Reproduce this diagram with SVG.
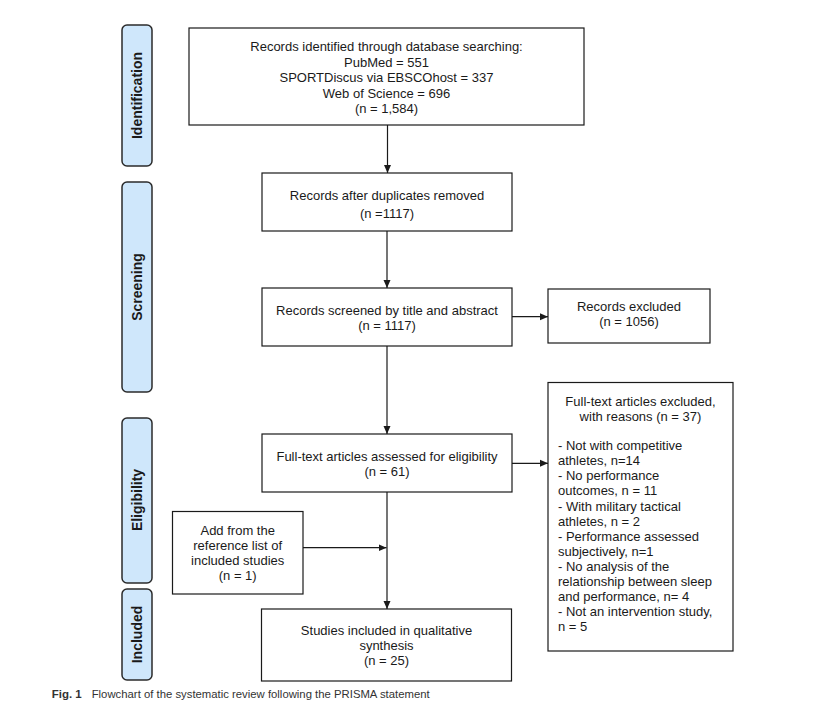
<svg xmlns="http://www.w3.org/2000/svg" width="828" height="705" viewBox="0 0 828 705">
<defs>
<style>
.box{fill:#fff;stroke:#1a1a1a;stroke-width:1.2}
.phase{fill:#cfe7fb;stroke:#2b2b2b;stroke-width:1.5}
.t{font-family:"Liberation Sans",Arial,sans-serif;font-size:13px;fill:#1a1a1a}
.c{text-anchor:middle}
.pl{font-family:"Liberation Sans",Arial,sans-serif;font-size:14px;font-weight:bold;fill:#1a1a1a;text-anchor:middle}
.ln{stroke:#1a1a1a;stroke-width:1.2;fill:none}
.cap{font-family:"Liberation Sans",Arial,sans-serif;font-size:11.5px;fill:#333}
</style>
<marker id="ah" markerWidth="8" markerHeight="8" refX="8" refY="4" orient="auto" markerUnits="userSpaceOnUse">
<path d="M0,0.5 L8,4 L0,7.5 Z" fill="#1a1a1a"/>
</marker>
</defs>
<rect width="828" height="705" fill="#fff"/>

<g id="phase-identification">
<rect class="phase" x="122" y="25" width="30" height="141" rx="5"/>
<text class="pl" transform="translate(142,95.5) rotate(-90)">Identification</text>
</g>
<g id="phase-screening">
<rect class="phase" x="122" y="182" width="30" height="210" rx="5"/>
<text class="pl" transform="translate(142,287) rotate(-90)">Screening</text>
</g>
<g id="phase-eligibility">
<rect class="phase" x="122" y="418" width="30" height="165" rx="5"/>
<text class="pl" transform="translate(142,500) rotate(-90)">Eligibility</text>
</g>
<g id="phase-included">
<rect class="phase" x="122" y="589" width="30" height="91" rx="5"/>
<text class="pl" transform="translate(142,634.5) rotate(-90)">Included</text>
</g>

<g id="n-identified">
<rect class="box" x="189" y="28" width="395" height="97"/>
<text class="t c" x="386.5" y="51">Records identified through database searching:</text>
<text class="t c" x="386.5" y="66.5">PubMed = 551</text>
<text class="t c" x="386.5" y="82">SPORTDiscus via EBSCOhost = 337</text>
<text class="t c" x="386.5" y="97.5">Web of Science = 696</text>
<text class="t c" x="386.5" y="113">(n = 1,584)</text>
</g>
<g id="n-duplicates">
<rect class="box" x="262" y="173" width="250" height="58"/>
<text class="t c" x="387" y="200">Records after duplicates removed</text>
<text class="t c" x="387" y="217.5">(n =1117)</text>
</g>
<g id="n-screened">
<rect class="box" x="262" y="288" width="250" height="58"/>
<text class="t c" x="387" y="314.5">Records screened by title and abstract</text>
<text class="t c" x="387" y="329.5">(n = 1117)</text>
</g>
<g id="n-excluded">
<rect class="box" x="548" y="289" width="162" height="54"/>
<text class="t c" x="629" y="311">Records excluded</text>
<text class="t c" x="629" y="326">(n = 1056)</text>
</g>
<g id="n-eligibility">
<rect class="box" x="262" y="434" width="250" height="58"/>
<text class="t c" x="387" y="461">Full-text articles assessed for eligibility</text>
<text class="t c" x="387" y="476">(n = 61)</text>
</g>
<g id="n-fulltext-excluded">
<rect class="box" x="548" y="382.5" width="185" height="268.5"/>
<text class="t c" x="640.5" y="406">Full-text articles excluded,</text>
<text class="t c" x="640.5" y="420.5">with reasons (n = 37)</text>
<text class="t" x="558" y="449.5">- Not with competitive</text>
<text class="t" x="558" y="464.5">athletes, n=14</text>
<text class="t" x="558" y="480">- No performance</text>
<text class="t" x="558" y="495">outcomes, n = 11</text>
<text class="t" x="558" y="511">- With military tactical</text>
<text class="t" x="558" y="526">athletes, n = 2</text>
<text class="t" x="558" y="541">- Performance assessed</text>
<text class="t" x="558" y="556">subjectively, n=1</text>
<text class="t" x="558" y="571">- No analysis of the</text>
<text class="t" x="558" y="586">relationship between sleep</text>
<text class="t" x="558" y="601">and performance, n= 4</text>
<text class="t" x="558" y="616">- Not an intervention study,</text>
<text class="t" x="558" y="631">n = 5</text>
</g>
<g id="n-add">
<rect class="box" x="172.5" y="511.5" width="130.5" height="82.5"/>
<text class="t c" x="237.7" y="535">Add from the</text>
<text class="t c" x="237.7" y="550">reference list of</text>
<text class="t c" x="237.7" y="565">included studies</text>
<text class="t c" x="237.7" y="580">(n = 1)</text>
</g>
<g id="n-included">
<rect class="box" x="261.5" y="609" width="250" height="72"/>
<text class="t c" x="386.5" y="634.5">Studies included in qualitative</text>
<text class="t c" x="386.5" y="649.5">synthesis</text>
<text class="t c" x="386.5" y="664.5">(n = 25)</text>
</g>

<g id="connectors">
<line class="ln" x1="387.5" y1="125" x2="387.5" y2="173" marker-end="url(#ah)"/>
<line class="ln" x1="387" y1="231" x2="387" y2="288" marker-end="url(#ah)"/>
<line class="ln" x1="512" y1="316.7" x2="548" y2="316.7" marker-end="url(#ah)"/>
<line class="ln" x1="387" y1="346" x2="387" y2="434" marker-end="url(#ah)"/>
<line class="ln" x1="512" y1="463.3" x2="548" y2="463.3" marker-end="url(#ah)"/>
<line class="ln" x1="387" y1="492" x2="387" y2="609" marker-end="url(#ah)"/>
<line class="ln" x1="303" y1="547.7" x2="386.5" y2="547.7" marker-end="url(#ah)"/>
</g>

<g id="caption">
<text class="cap" x="51.7" y="698" font-weight="bold">Fig. 1</text>
<text class="cap" x="91.7" y="698" textLength="338" lengthAdjust="spacingAndGlyphs">Flowchart of the systematic review following the PRISMA statement</text>
</g>
</svg>
